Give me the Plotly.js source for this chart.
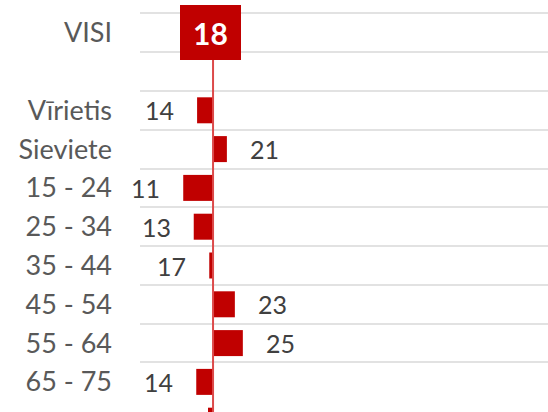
<!DOCTYPE html>
<html>
<head>
<meta charset="utf-8">
<script src="https://cdn.plot.ly/plotly-3.0.1.min.js"></script>
<style>
  html, body { margin: 0; padding: 0; background: #ffffff; overflow: hidden; }
  #chart { width: 548px; height: 412px; }
</style>
</head>
<body>
<div id="chart"></div>
<script>
// ---- data ----
const categories = ['VISI', ' ', 'Vīrietis', 'Sieviete', '15 - 24', '25 - 34', '35 - 44', '45 - 54', '55 - 64', '65 - 75', 'Rīga'];
const values = [18, null, 14.2, 21.3, 10.9, 13.4, 17.1, 23.2, 25.1, 14.0, 16.8];
const totalLabel = 'VISI';

// ---- derived ----
const base = values[categories.indexOf(totalLabel)];
const barY = [], barX = [];
categories.forEach((c, i) => {
  if (c !== totalLabel && values[i] !== null) {
    barY.push(c);
    barX.push(values[i] - base);
  }
});

const red = '#C00000';
const font = 'Lato, "Open Sans", sans-serif';

const annotations = [];
categories.forEach((c, i) => {
  const v = values[i];
  if (v === null) return;
  if (c === totalLabel) {
    annotations.push({
      x: v, y: c, xref: 'x', yref: 'y',
      text: String(Math.round(v)), showarrow: false,
      width: 57, height: 51, bgcolor: red, borderpad: 1, borderwidth: 1, bordercolor: red,
      xshift: -3,
      font: { family: font, size: 30, color: '#ffffff', weight: 'bold' }
    });
  } else {
    const pos = v >= base;
    annotations.push({
      x: v, y: c, xref: 'x', yref: 'y',
      text: String(Math.round(v)), showarrow: false,
      xanchor: pos ? 'left' : 'right',
      xshift: pos ? 21 : -21,
      font: { family: font, size: 25, color: '#404040' }
    });
  }
});

const traces = [{
  type: 'bar',
  orientation: 'h',
  y: barY,
  x: barX,
  base: base,
  width: 0.67,
  marker: { color: red, line: { width: 0 } },
  hoverinfo: 'skip'
}];

const layout = {
  width: 548, height: 412,
  margin: { l: 139.5, r: 0, t: 0, b: 0 },
  paper_bgcolor: '#ffffff', plot_bgcolor: '#ffffff',
  showlegend: false,
  xaxis: {
    range: [0.6, 97.8],
    showgrid: false, zeroline: false, showticklabels: false, showline: false, ticks: ''
  },
  yaxis: {
    type: 'category',
    categoryorder: 'array',
    categoryarray: categories,
    range: [9.776, -0.843],
    tickson: 'boundaries',
    showgrid: true, gridcolor: '#e2e2e2', gridwidth: 2,
    zeroline: false, showline: false, ticks: '',
    ticklabelstandoff: 27,
    tickfont: { family: font, size: 27, color: '#595959' }
  },
  shapes: [{
    type: 'line', xref: 'x', yref: 'y',
    x0: base, x1: base,
    y0: categories.indexOf(totalLabel), y1: categories.length - 0.5,
    line: { color: '#dc4a4a', width: 2 },
    layer: 'above'
  }],
  annotations: annotations
};

Plotly.newPlot('chart', traces, layout, { staticPlot: true, displayModeBar: false });
</script>
</body>
</html>
